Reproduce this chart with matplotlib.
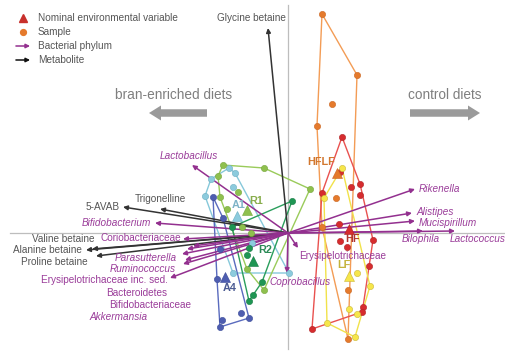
import numpy as np
import matplotlib
matplotlib.use("Agg")
import matplotlib.pyplot as plt
from matplotlib.patches import FancyArrow

plt.rcParams['font.family'] = ['Liberation Sans', 'DejaVu Sans']

# ---- sample scores (CCA axis 1, axis 2) per diet group ----
hflf_x = [0.34, 0.69, 0.44, 0.29, 0.48, 0.34, 0.60, 0.60]
hflf_y = [2.19, 1.58, 1.29, 1.07, 0.35, 0.06, -0.57, -1.06]

hf_x = [0.54, 0.52, 0.63, 0.72, 0.34, 0.72, 0.51, 0.52, 0.59, 0.85, 0.81, 0.75, 0.74, 0.24]
hf_y = [0.96, 0.61, 0.46, 0.49, 0.40, 0.38, 0.09, -0.08, -0.14, -0.07, -0.33, -0.74, -0.79, -0.96]

lf_x = [0.54, 0.36, 0.69, 0.82, 0.61, 0.69, 0.39, 0.67]
lf_y = [0.65, 0.35, -0.40, -0.53, -0.76, -0.81, -0.90, -1.04]

r1_x = [-0.65, -0.24, 0.22, -0.70, -0.50, -0.68, -0.61, -0.46, -0.37, -0.41, -0.24]
r1_y = [0.68, 0.65, 0.44, 0.57, 0.41, 0.36, 0.24, 0.06, 0.00, -0.36, -0.57]

a1_x = [-0.59, -0.53, -0.77, -0.55, -0.83, -0.36, -0.55, 0.01]
a1_y = [0.65, 0.60, 0.54, 0.46, 0.37, -0.10, -0.40, -0.40]

r2_x = [0.04, -0.56, -0.39, -0.41, -0.26, -0.35, -0.39]
r2_y = [0.32, 0.06, -0.15, -0.22, -0.49, -0.62, -0.68]

a4_x = [-0.75, -0.65, -0.68, -0.71, -0.47, -0.39, -0.66, -0.68]
a4_y = [0.36, 0.15, -0.16, -0.46, -0.80, -0.85, -0.87, -0.94]

# ---- nominal environmental variables (group centroids) ----
groups = ["HFLF", "HF", "LF", "A1", "R1", "R2", "A4"]
centroid_x = [0.49, 0.61, 0.61, -0.51, -0.41, -0.35, -0.63]
centroid_y = [0.60, 0.04, -0.43, 0.17, 0.23, -0.28, -0.44]
group_label_x = [0.19, 0.57, 0.49, -0.56, -0.39, -0.30, -0.65]
group_label_y = [0.71, -0.06, -0.32, 0.28, 0.32, -0.17, -0.55]

# ---- metabolite vectors ----
metabolites = ["Glycine betaine", "5-AVAB", "Trigonelline",
               "Valine betaine", "Alanine betaine", "Proline betaine"]
met_x = [-0.20, -1.65, -1.28, -1.96, -2.02, -1.92]
met_y = [2.05, 0.26, 0.24, -0.16, -0.17, -0.23]
met_lx = [-0.37, -1.68, -1.28, -1.93, -2.06, -2.00]
met_ly = [2.15, 0.26, 0.34, -0.06, -0.17, -0.29]
met_ha = ["center", "right", "center", "right", "right", "right"]

# ---- bacterial vectors ----
bacteria = ["Lactobacillus", "Bifidobacterium", "Coriobacteriaceae", "Bacteroidetes",
            "Bifidobacteriaceae", "Parasutterella", "Akkermansia", "Ruminococcus",
            "Erysipelotrichaceae inc. sed.", "Rikenella", "Alistipes", "Mucispirillum",
            "Bilophila", "Lactococcus", "Erysipelotrichaceae", "Coprobacillus"]
bac_x = [-0.96, -1.33, -1.05, -0.95, -1.01, -1.06, -1.03, -1.05,
         -1.18, 1.27, 1.24, 1.27, 1.35, 1.67, 0.10, -0.01]
bac_y = [0.68, 0.10, -0.06, -0.13, -0.16, -0.21, -0.27, -0.31,
         -0.45, 0.44, 0.20, 0.12, 0.02, 0.02, -0.15, -0.40]
bac_lx = [-0.99, -1.37, -1.07, -1.21, -0.97, -1.11, -1.40, -1.12,
          -1.20, 1.31, 1.29, 1.31, 1.14, 1.62, 0.11, -0.19]
bac_ly = [0.77, 0.10, -0.05, -0.60, -0.72, -0.25, -0.84, -0.36,
          -0.47, 0.44, 0.21, 0.10, -0.06, -0.06, -0.23, -0.49]
bac_ha = ["center", "right", "right", "right", "right", "right", "right", "right",
          "right", "left", "left", "left", "left", "left", "left", "left"]
bac_italic = [True, True, False, False, False, True, True, True,
              False, True, True, True, True, True, False, True]

# ---- styling ----
PURPLE = "#93308F"
PURPLE_TXT = "#9A3C99"
DARK = "#333333"
TXT = "#555555"

group_style = {
    "HFLF": dict(fill="#E57A2C", edge="#C96520", line="#F39C55", text="#D2772E"),
    "HF":   dict(fill="#D62C2E", edge="#B02224", line="#E9514F", text="#B0352F"),
    "LF":   dict(fill="#F6E64A", edge="#C9B63A", line="#F1E24A", text="#C4B23A"),
    "A1":   dict(fill="#8CCBDD", edge="#6CAFC2", line="#86C8DA", text="#7EB3C7"),
    "R1":   dict(fill="#8FC04E", edge="#76A63C", line="#9ACB5A", text="#88AD4C"),
    "R2":   dict(fill="#1F9653", edge="#157A43", line="#2A9E5C", text="#2C8B57"),
    "A4":   dict(fill="#4E5DB0", edge="#3A4A98", line="#5A6BBE", text="#4B5A92"),
}
samples = {
    "HFLF": (hflf_x, hflf_y), "HF": (hf_x, hf_y), "LF": (lf_x, lf_y),
    "A1": (a1_x, a1_y), "R1": (r1_x, r1_y), "R2": (r2_x, r2_y), "A4": (a4_x, a4_y),
}


def convex_hull(xs, ys):
    pts = sorted(set(zip(xs, ys)))
    if len(pts) < 3:
        return pts

    def cross(o, a, b):
        return (a[0] - o[0]) * (b[1] - o[1]) - (a[1] - o[1]) * (b[0] - o[0])

    lower, upper = [], []
    for p in pts:
        while len(lower) >= 2 and cross(lower[-2], lower[-1], p) <= 0:
            lower.pop()
        lower.append(p)
    for p in reversed(pts):
        while len(upper) >= 2 and cross(upper[-2], upper[-1], p) <= 0:
            upper.pop()
        upper.append(p)
    return lower[:-1] + upper[:-1]


fig = plt.figure(figsize=(5.05, 3.53), dpi=100)
ax = fig.add_axes([0, 0, 1, 1])
ax.set_xlim(-2.88, 2.17)
ax.set_ylim(-1.20, 2.33)
ax.axis("off")

# zero lines
ax.axvline(0, ymin=0.01, ymax=0.985, color="#BDBDBD", lw=0.9, zorder=0)
ax.axhline(0, xmin=0.02, xmax=1.0, color="#BDBDBD", lw=0.9, zorder=0)

# group hulls and sample points
for g in groups:
    xs, ys = samples[g]
    st = group_style[g]
    hull = convex_hull(xs, ys)
    hx = [p[0] for p in hull] + [hull[0][0]]
    hy = [p[1] for p in hull] + [hull[0][1]]
    ax.plot(hx, hy, color=st["line"], lw=1.0, zorder=1)
    ax.plot(xs, ys, "o", ms=4.5, mfc=st["fill"], mec=st["edge"], mew=0.4, zorder=4)

# metabolite vectors
for x, y in zip(met_x, met_y):
    ax.annotate("", xy=(x, y), xytext=(0, 0),
                arrowprops=dict(arrowstyle="-|>", color=DARK, lw=1.1,
                                mutation_scale=6.5, shrinkA=0, shrinkB=0), zorder=3)
for name, lx, ly, ha in zip(metabolites, met_lx, met_ly, met_ha):
    ax.text(lx, ly, name, ha=ha, va="center", fontsize=7.2, color=TXT, zorder=6)

# bacterial vectors
for x, y in zip(bac_x, bac_y):
    ax.annotate("", xy=(x, y), xytext=(0, 0),
                arrowprops=dict(arrowstyle="-|>", color=PURPLE, lw=1.1,
                                mutation_scale=6.5, shrinkA=0, shrinkB=0), zorder=3)
for name, lx, ly, ha, it in zip(bacteria, bac_lx, bac_ly, bac_ha, bac_italic):
    ax.text(lx, ly, name, ha=ha, va="center", fontsize=7.2, color=PURPLE_TXT,
            style="italic" if it else "normal", zorder=6)

# centroids and group labels
for g, cx, cy, lx, ly in zip(groups, centroid_x, centroid_y, group_label_x, group_label_y):
    st = group_style[g]
    ax.plot(cx, cy, "^", ms=6.5, mfc=st["fill"], mec=st["edge"], mew=0.4, zorder=5)
    ax.text(lx, ly, g, ha="left", va="center", fontsize=7.8, fontweight="bold",
            color=st["text"], zorder=6)

# diet direction arrows
ax.add_patch(FancyArrow(-0.81, 1.20, -0.58, 0, width=0.075, head_width=0.15,
                        head_length=0.12, length_includes_head=True,
                        color="#9A9A9A", lw=0, zorder=2))
ax.add_patch(FancyArrow(1.22, 1.20, 0.70, 0, width=0.075, head_width=0.15,
                        head_length=0.12, length_includes_head=True,
                        color="#9A9A9A", lw=0, zorder=2))
ax.text(-1.14, 1.38, "bran-enriched diets", ha="center", va="center",
        fontsize=9.8, color="#7F7F7F")
ax.text(1.57, 1.38, "control diets", ha="center", va="center",
        fontsize=9.8, color="#7F7F7F")

# key
tr = ax.transAxes
kx, ktx = 23 / 505, 38 / 505
rows = [1 - 18 / 353, 1 - 32 / 353, 1 - 46 / 353, 1 - 60 / 353]
ax.plot(kx, rows[0], "^", ms=6, mfc="#C8302C", mec="#C8302C", transform=tr, zorder=6)
ax.plot(kx, rows[1], "o", ms=4.2, mfc="#E57A2C", mec="#E57A2C", transform=tr, zorder=6)
for r, c in ((rows[2], PURPLE), (rows[3], "#111111")):
    ax.annotate("", xy=(kx + 0.014, r), xytext=(kx - 0.014, r), xycoords=tr,
                arrowprops=dict(arrowstyle="-|>", color=c, lw=1.1,
                                mutation_scale=6, shrinkA=0, shrinkB=0))
for r, t in zip(rows, ["Nominal environmental variable", "Sample",
                       "Bacterial phylum", "Metabolite"]):
    ax.text(ktx, r, t, transform=tr, ha="left", va="center", fontsize=7.2, color=TXT)

fig.savefig("out.png", dpi=100)
